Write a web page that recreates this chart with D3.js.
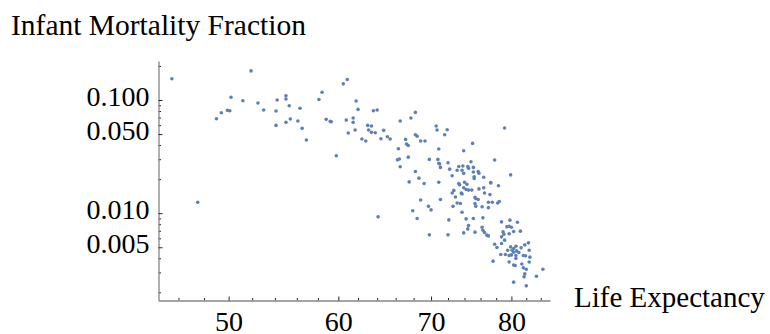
<!DOCTYPE html>
<html lang="en">
<head>
    <meta charset="utf-8">
    <title>Infant Mortality vs Life Expectancy</title>
    <script type="text/javascript" src="https://d3js.org/d3.v7.min.js"></script>
    <style>
        body { margin: 0; background: #fff; }
        text { font-family: "Liberation Serif", "Times New Roman", serif; fill: #000; }
    </style>
</head>
<body>
<script type="text/javascript">
    // data: one country per point
    var lifeExpectancy = [
        45.5, 51.9, 49.0, 49.4, 49.9, 50.1, 50.2, 51.2, 52.5, 53.0,
        54.1, 54.1, 54.2, 55.0, 55.0, 55.3, 55.0, 55.4, 56.1, 56.3,
        56.5, 56.9, 58.1, 58.4, 58.8, 59.2, 59.3, 59.8, 60.5, 60.9,
        60.8, 61.0, 47.5,
        61.8, 62.0, 61.5, 61.5, 61.7, 62.4, 62.8, 63.0, 63.4, 63.1,
        63.4, 63.8, 63.6, 64.0, 64.4, 64.7, 65.1, 65.4, 64.1, 66.5,
        66.3, 66.2, 66.4, 66.5, 67.1, 67.2, 67.4, 67.4, 67.7, 68.2,
        68.2, 68.4, 68.8, 69.3, 68.2, 68.6, 67.5, 69.2, 68.8, 67.9,
        68.4, 69.8, 70.6, 70.7, 71.9, 71.6, 70.9, 70.8, 70.9, 71.1,
        71.0, 70.9, 71.1, 69.7, 70.0, 69.8, 72.1, 72.0, 72.0, 72.2,
        72.5, 73.1, 73.3, 73.8, 73.7, 73.9, 74.4, 74.8, 74.5, 75.1,
        75.1, 75.7, 75.8, 75.0, 73.9, 73.3, 73.4, 74.0, 74.3, 73.9,
        74.2, 74.5, 74.9, 75.2, 75.2, 76.4, 72.7, 72.5, 72.9, 73.1,
        72.6, 73.6, 73.7, 73.5, 75.3, 75.4, 75.3, 75.4, 75.7, 75.8,
        76.4, 76.5, 76.2, 77.0, 77.0, 77.2, 77.3, 77.3, 77.5, 78.3,
        78.4, 78.2, 77.8, 79.1, 79.9, 73.7, 73.9, 74.2, 74.4, 74.5,
        75.1, 75.3, 76.3, 76.2, 76.3, 76.5, 76.8, 77.0, 78.7, 79.4,
        79.7, 80.0, 79.8, 80.8, 81.2, 78.9, 79.0, 78.7, 79.1, 78.7,
        79.7, 80.3, 77.8, 78.1, 78.6, 79.2, 79.5, 79.9, 80.3, 79.7,
        80.0, 80.1, 80.3, 80.6, 80.7, 81.0, 81.3, 81.8, 82.3, 82.4,
        80.6, 81.6, 81.9, 82.5, 80.6, 79.7, 77.6, 80.5, 80.3, 81.4,
        82.4, 81.6, 82.0, 81.8, 81.7, 80.3, 82.0, 83.4, 84.3
    ];
    var infantMortality = [
        0.154, 0.181, 0.0683, 0.0772, 0.0811, 0.0804, 0.106, 0.0986, 0.0941, 0.0816,
        0.0597, 0.0799, 0.100, 0.109, 0.102, 0.0890, 0.0635, 0.0679, 0.0652, 0.0845,
        0.0562, 0.0443, 0.101, 0.117, 0.0675, 0.0648, 0.0643, 0.0322, 0.139, 0.152,
        0.0665, 0.0511, 0.0125,
        0.0980, 0.0827, 0.0693, 0.0635, 0.0543, 0.0452, 0.0434, 0.0597, 0.0589, 0.0543,
        0.0518, 0.0514, 0.0804, 0.0816, 0.0455, 0.0540, 0.0474, 0.0452, 0.00929, 0.0652,
        0.0371, 0.0296, 0.0301, 0.0257, 0.0449, 0.0408, 0.0397, 0.0313, 0.0693, 0.0778,
        0.0493, 0.0478, 0.0434, 0.0434, 0.0234, 0.0204, 0.0189, 0.0183, 0.0131, 0.0105,
        0.00899, 0.0299, 0.0589, 0.0543, 0.0546, 0.0493, 0.0369, 0.0299, 0.0276, 0.0254,
        0.0272, 0.0188, 0.0132, 0.0115, 0.0107, 0.00644, 0.00873, 0.00644, 0.0279, 0.0245,
        0.0214, 0.0240, 0.0259, 0.0261, 0.0240, 0.0225, 0.0259, 0.0285, 0.0249, 0.0254,
        0.0231, 0.0234, 0.0226, 0.0414, 0.0356, 0.0183, 0.0178, 0.0188, 0.0180, 0.0168,
        0.0162, 0.0160, 0.0160, 0.0203, 0.0210, 0.0208, 0.0159, 0.0151, 0.0139, 0.0123,
        0.0115, 0.0151, 0.0148, 0.0122, 0.0138, 0.0135, 0.0122, 0.0115, 0.0132, 0.0164,
        0.0168, 0.0151, 0.0114, 0.0125, 0.0112, 0.0146, 0.0187, 0.0185, 0.0125, 0.0175,
        0.0127, 0.0123, 0.0295, 0.0566, 0.0218, 0.0102, 0.00670, 0.00891, 0.00727, 0.00779,
        0.00899, 0.00680, 0.00910, 0.00752, 0.00708, 0.00675, 0.00640, 0.00630, 0.00838, 0.00758,
        0.00765, 0.00752, 0.00868, 0.00833, 0.00694, 0.00684, 0.00653, 0.00618, 0.00578, 0.00540,
        0.00657, 0.00690, 0.00532, 0.00498, 0.00432, 0.00432, 0.00471, 0.00504, 0.00488, 0.00423,
        0.00428, 0.00471, 0.00452, 0.00511, 0.00465, 0.00450, 0.00494, 0.00525, 0.00547, 0.00471,
        0.00423, 0.00423, 0.00420, 0.00409, 0.00398, 0.00371, 0.00377, 0.00345, 0.00348, 0.00356,
        0.00371, 0.00329, 0.00320, 0.00291, 0.00274, 0.00246, 0.00228, 0.00277, 0.00320
    ];

    // axis ticks
    var xMajorTicks = [50, 60, 70, 80];
    var xMinorTicks = [46, 48, 52, 54, 56, 58, 62, 64, 66, 68, 72, 74, 76, 78, 82, 84];
    var yMajorTicks = [0.005, 0.01, 0.05, 0.1];
    var yTickLabels = ["0.005", "0.010", "0.050", "0.100"];
    var yMinorTicks = [0.002, 0.003, 0.004, 0.006, 0.007, 0.008, 0.009,
                       0.02, 0.03, 0.04, 0.06, 0.07, 0.08, 0.09, 0.2];

    var xDomain = [44.5, 85.3];
    var yDomain = [0.001693, 0.2213];

    //Width and height
    var w = 770;
    var h = 334;
    var plotLeft = 158.5, plotRight = 550, plotTop = 61, plotBottom = 300.5;

    var svg = d3.select("body")
        .append("svg")
        .attr("width", w)
        .attr("height", h);

    var xScale = d3.scaleLog().domain(xDomain).range([plotLeft, plotRight]);
    var yScale = d3.scaleLog().domain(yDomain).range([plotBottom, plotTop]);

    // minor ticks first, no labels
    svg.append("g")
        .attr("transform", "translate(0," + plotBottom + ")")
        .call(d3.axisBottom(xScale).tickValues(xMinorTicks).tickSize(-2.5).tickFormat(""))
        .call(g => g.select(".domain").remove());

    svg.append("g")
        .attr("transform", "translate(" + plotLeft + ",0)")
        .call(d3.axisLeft(yScale).tickValues(yMinorTicks).tickSize(-2.5).tickFormat(""))
        .call(g => g.select(".domain").remove());

    // major ticks with labels
    var xAxis = svg.append("g")
        .attr("transform", "translate(0," + plotBottom + ")")
        .call(d3.axisBottom(xScale)
            .tickValues(xMajorTicks)
            .tickSize(-4)
            .tickSizeOuter(0)
            .tickPadding(11)
            .tickFormat(d3.format("d")));

    var yAxis = svg.append("g")
        .attr("transform", "translate(" + plotLeft + ",0)")
        .call(d3.axisLeft(yScale)
            .tickValues(yMajorTicks)
            .tickSize(-4)
            .tickSizeOuter(0)
            .tickPadding(9)
            .tickFormat((d, i) => yTickLabels[i]));

    svg.selectAll(".tick line")
        .attr("stroke", "#222")
        .attr("stroke-width", 1);

    svg.selectAll(".domain")
        .attr("stroke", "#858585")
        .attr("stroke-width", 1.3);

    svg.selectAll(".tick text")
        .attr("font-family", "Liberation Serif, Times New Roman, serif")
        .attr("font-size", "28px")
        .attr("fill", "#000");

    yAxis.selectAll(".tick text").attr("dy", "0.18em");

    // points
    svg.append("g")
        .selectAll("circle")
        .data(lifeExpectancy)
        .enter()
        .append("circle")
        .attr("cx", d => xScale(d))
        .attr("cy", (d, i) => yScale(infantMortality[i]))
        .attr("r", 1.8)
        .attr("fill", "#5e81b5");

    // axis labels
    svg.append("text")
        .text("Infant Mortality Fraction")
        .attr("x", 11)
        .attr("y", 34.5)
        .attr("font-size", "29.5px");

    svg.append("text")
        .text("Life Expectancy")
        .attr("x", 574)
        .attr("y", 306.5)
        .attr("font-size", "29px");
</script>
</body>
</html>
